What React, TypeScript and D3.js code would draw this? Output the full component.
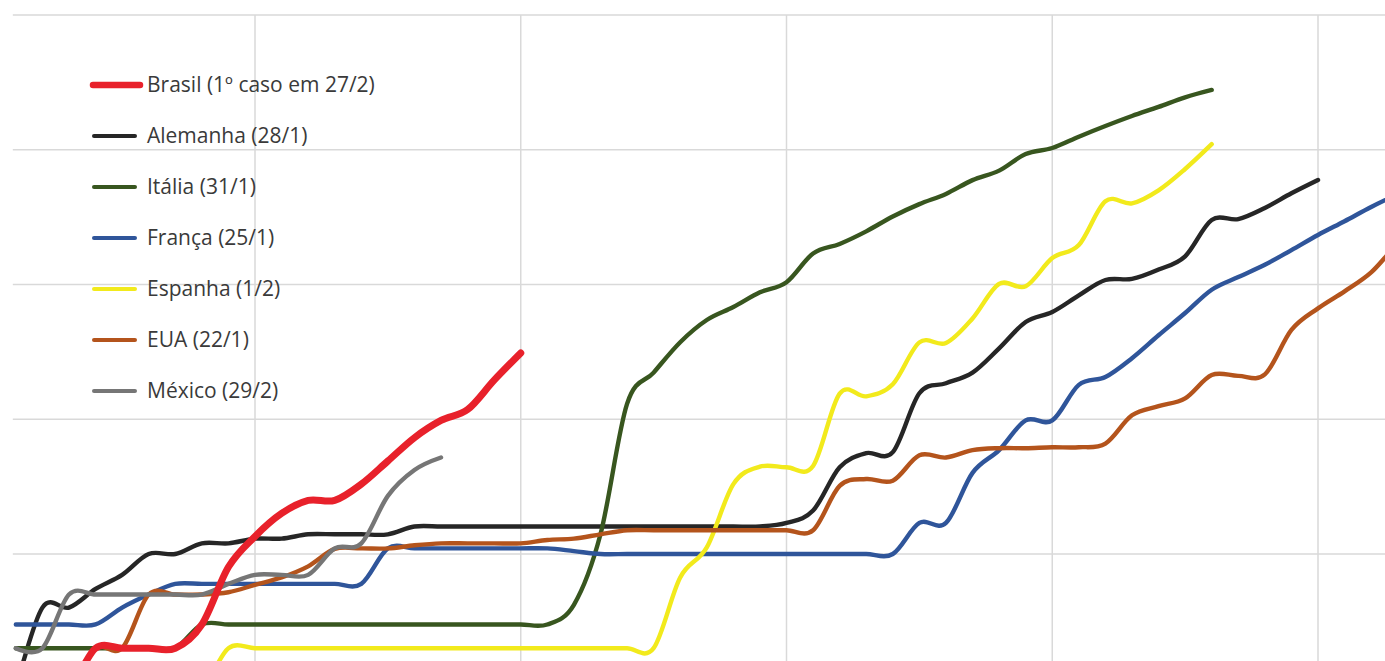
import React, { useEffect, useRef } from 'react';
import * as d3 from 'd3';

// cumulative confirmed cases, one value per day since first case (day 1 = first entry)
const brasil = [1, 1, 1, 2, 2, 2, 2, 3, 8, 13.5, 20, 25, 25, 33, 49, 73, 98, 118, 195, 310];
const alemanha = [
  1, 4, 4, 5.5, 7, 10, 10, 12, 12, 13, 13, 14, 14, 14, 14, 16,
  16, 16, 16, 16, 16, 16, 16, 16, 16, 16, 16, 16, 16,
  17, 21, 44, 56, 57, 156, 185, 222, 336, 527, 625, 830, 1080, 1100, 1290, 1620, 3010, 3060, 3700, 4750, 5960
];
const italia = [
  2, 2, 2, 2, 2, 2, 2,
  3, 3, 3, 3, 3, 3, 3, 3, 3, 3, 3, 3, 3, 3,
  4.2, 14, 130, 222, 373, 545, 680, 875, 1040, 1700, 2000, 2480, 3200, 3950, 4700, 5950, 7000, 9300, 10300,
  12500, 15000, 17800, 20800, 24500, 27800
];
const franca = [
  3, 3, 3, 3, 4, 5, 6, 6, 6, 6, 6, 6, 6, 6,
  11, 11, 11, 11, 11, 11, 11, 10.5,
  10, 10, 10, 10, 10, 10, 10, 10, 10, 10, 10, 10,
  17, 17, 40, 59, 98, 98, 180, 206, 284, 420, 614, 915, 1136, 1400, 1800, 2330, 2950, 3760, 4700
];
const espanha = [
  1, 1, 1, 1, 1, 1, 1, 1,
  2, 2, 2, 2, 2, 2, 2, 2, 2, 2, 2, 2, 2, 2, 2, 2, 2,
  6.7, 11.2, 33, 44.5, 44, 45, 155, 148, 182, 372, 368, 560, 1010, 970, 1570, 1960, 4150, 4000, 5000, 7200, 11000
];
const eua = [
  1, 1, 1, 2, 2, 5, 5, 5, 5.2, 5.9, 6.7, 8.1, 10.9, 11, 11,
  11.6, 12, 12, 12, 12, 12.7, 13, 14,
  15, 15, 15, 15, 15, 15, 15, 15,
  32, 36, 35, 54, 52, 59, 61, 61, 62, 62, 66, 107, 125, 143, 213, 210, 215, 460, 665, 890, 1230, 2000, 2800
];
const mexico = [2, 2, 5, 5, 5, 5, 5, 5, 6, 7, 7, 7, 11, 12, 27, 42, 52];

const legendLabels = [
  'Brasil (1º caso em 27/2)',
  'Alemanha (28/1)',
  'Itália (31/1)',
  'França (25/1)',
  'Espanha (1/2)',
  'EUA (22/1)',
  'México (29/2)'
];

const dayTicks = [10, 20, 30, 40, 50];
const caseTicks = [1, 10, 100, 1000, 10000, 100000];

const series = [
  { name: legendLabels[0], values: brasil, color: '#e8212b', width: 7 },
  { name: legendLabels[1], values: alemanha, color: '#262626', width: 4.4 },
  { name: legendLabels[2], values: italia, color: '#38561f', width: 4.4 },
  { name: legendLabels[3], values: franca, color: '#2f559a', width: 4.4 },
  { name: legendLabels[4], values: espanha, color: '#f2ea1c', width: 4.4 },
  { name: legendLabels[5], values: eua, color: '#b4541c', width: 4.4 },
  { name: legendLabels[6], values: mexico, color: '#767676', width: 4.4 }
];

// drawing order: later on top (Brasil last)
const drawOrder = [1, 2, 3, 4, 5, 6, 0];

export default function App() {
  const svgRef = useRef<SVGSVGElement>(null);

  useEffect(() => {
    const W = 1385;
    const H = 661;
    const svg = d3.select(svgRef.current);
    svg.selectAll('*').remove();
    svg.attr('width', W).attr('height', H);

    const x = d3.scaleLinear().domain([10, 50]).range([255, 1318]);
    const y = d3.scaleLog().domain([1, 100000]).range([688.75, 15]);

    const plotLeft = x(1) - 3;

    svg.append('rect').attr('width', W).attr('height', H).attr('fill', '#ffffff');

    // gridlines
    const grid = svg.append('g').attr('stroke', '#d9d9d9').attr('stroke-width', 1.5);
    caseTicks.forEach(t => {
      grid.append('line')
        .attr('x1', plotLeft).attr('x2', W)
        .attr('y1', y(t)).attr('y2', y(t));
    });
    dayTicks.forEach(t => {
      grid.append('line')
        .attr('x1', x(t)).attr('x2', x(t))
        .attr('y1', y(100000)).attr('y2', H + 30);
    });

    // lines
    const line = d3.line<number>()
      .x((_, i) => x(i + 1))
      .y(d => y(d))
      .curve(d3.curveCardinal.tension(0));

    drawOrder.forEach(k => {
      const s = series[k];
      svg.append('path')
        .datum(s.values)
        .attr('fill', 'none')
        .attr('stroke', s.color)
        .attr('stroke-width', s.width)
        .attr('stroke-linejoin', 'round')
        .attr('stroke-linecap', 'round')
        .attr('d', line);
    });

    // legend
    const lg = svg.append('g').attr('transform', 'translate(93,85)');
    series.forEach((s, i) => {
      const row = lg.append('g').attr('transform', `translate(0,${i * 51})`);
      row.append('line')
        .attr('x1', i === 0 ? 0 : 1).attr('x2', i === 0 ? 47 : 42)
        .attr('y1', 0).attr('y2', 0)
        .attr('stroke', s.color)
        .attr('stroke-width', i === 0 ? 6.5 : 4)
        .attr('stroke-linecap', 'round');
      row.append('text')
        .attr('x', 54)
        .attr('y', 7)
        .attr('fill', '#3a3a3a')
        .style('font-family', '"Open Sans", Lato, sans-serif')
        .style('font-size', '21px')
        .text(s.name);
    });
  }, []);

  return (
    <div style={{ position: 'fixed', left: 0, top: 0 }}>
      <svg ref={svgRef} style={{ display: 'block' }} />
    </div>
  );
}
